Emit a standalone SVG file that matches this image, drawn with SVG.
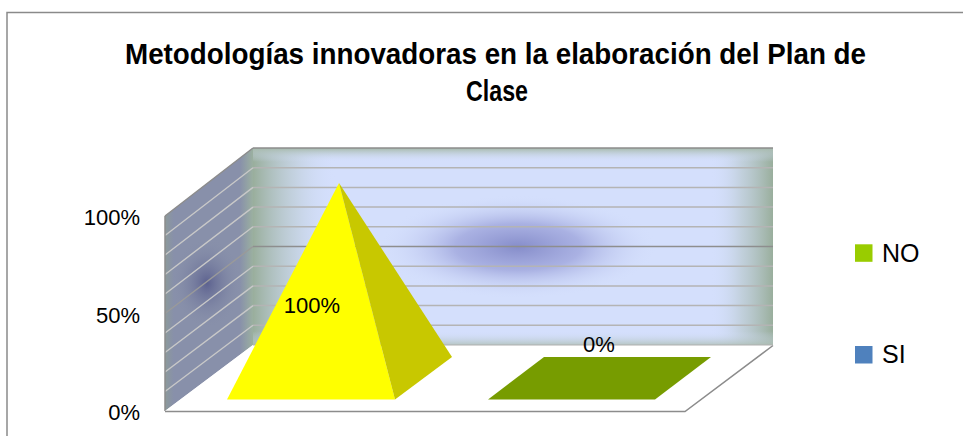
<svg xmlns="http://www.w3.org/2000/svg" width="963" height="436" viewBox="0 0 963 436">
<style>
text{font-family:"Liberation Sans",Arial,sans-serif;fill:#000}
.title{font-weight:bold;font-size:29px}
.lbl{font-size:22px}
.leg{font-size:25px}
.grid{stroke:#B4B4B4;stroke-width:1.5;fill:none}
.gridL{stroke:#C8C8C8;stroke-width:1.4;fill:none}
.edge{stroke:#8C8C8C;stroke-width:1.5;fill:none}
</style>
<defs>
<linearGradient id="bwL" x1="0" y1="0" x2="1" y2="0">
<stop offset="0" stop-color="#99AE9C"/>
<stop offset="0.08" stop-color="#B9C9CE" stop-opacity="0.6"/>
<stop offset="0.16" stop-color="#D4DFFC" stop-opacity="0"/>
<stop offset="0.88" stop-color="#D4DFFC" stop-opacity="0"/>
<stop offset="0.94" stop-color="#B9C9CE" stop-opacity="0.7"/>
<stop offset="1" stop-color="#99AE9C"/>
</linearGradient>
<linearGradient id="bwT" x1="0" y1="0" x2="0" y2="1">
<stop offset="0" stop-color="#A6B9AA"/>
<stop offset="0.07" stop-color="#D4DFFC" stop-opacity="0"/>
<stop offset="0.93" stop-color="#D4DFFC" stop-opacity="0"/>
<stop offset="1" stop-color="#AEBFB5" stop-opacity="0.8"/>
</linearGradient>
<radialGradient id="bwC" cx="0.5" cy="0.5" r="0.5">
<stop offset="0" stop-color="#868DCA"/>
<stop offset="0.45" stop-color="#A2A9DE" stop-opacity="0.85"/>
<stop offset="1" stop-color="#D4DFFC" stop-opacity="0"/>
</radialGradient>
<linearGradient id="lwG" x1="0" y1="0" x2="1" y2="0">
<stop offset="0" stop-color="#8C9A9A"/>
<stop offset="0.1" stop-color="#8890AA"/>
<stop offset="0.85" stop-color="#8890AA"/>
<stop offset="1" stop-color="#9BB0A0"/>
</linearGradient>
<radialGradient id="lwC" cx="0.5" cy="0.5" r="0.5">
<stop offset="0" stop-color="#5C618F"/>
<stop offset="1" stop-color="#8890AA" stop-opacity="0"/>
</radialGradient>
</defs>
<rect x="7" y="12.5" width="970" height="440" fill="#FFFFFF" stroke="#8A8A8A" stroke-width="1.5"/>
<g id="title">
<text class="title" x="125" y="63.5" textLength="741" lengthAdjust="spacingAndGlyphs">Metodologías innovadoras en la elaboración del Plan de</text>
<text class="title" x="466" y="100.5" textLength="62" lengthAdjust="spacingAndGlyphs">Clase</text>
</g>
<g id="plot-area">
<g id="back-wall">
<rect x="253" y="148" width="520" height="197" fill="#D4DFFC"/>
<ellipse cx="518" cy="247" rx="140" ry="52" fill="url(#bwC)"/>
<rect x="253" y="148" width="520" height="197" fill="url(#bwL)"/>
<rect x="253" y="148" width="520" height="197" fill="url(#bwT)"/>
<path class="grid" d="M253 167.7H773M253 187.4H773M253 207.1H773M253 226.8H773M253 266.2H773M253 285.9H773M253 305.6H773M253 325.3H773"/>
<path d="M253 246.5H773" stroke="#8E8E8E" stroke-width="1.5"/>
<path class="edge" d="M253 148H773" stroke="#A0A0A0"/>
</g>
<g id="side-wall">
<polygon points="165,216 253,148 253,345 165,411" fill="url(#lwG)"/>
<ellipse cx="207" cy="283" rx="35" ry="45" fill="url(#lwC)"/>
<path class="gridL" d="M165 235.5L253 167.7M165 255L253 187.4M165 274.5L253 207.1M165 294L253 226.8M165 333L253 266.2M165 352.5L253 285.9M165 372L253 305.6M165 391.5L253 325.3"/>
<path d="M165 313.5L253 246.5" stroke="#9A9A9A" stroke-width="1.4"/>
<path class="edge" d="M165 216L253 148M165 216V411"/>
</g>
<g id="floor">
<polygon points="165,411 253,345 773,345 685,412" fill="#FFFFFF"/>
<path class="edge" d="M165 411.5H685L773 345.5"/>
<path d="M253 345H773" stroke="#B0B0B0" stroke-width="1"/>
</g>
</g>
<g id="series-si">
<polygon points="339,183 227,399.5 395,399.5" fill="#FFFF00"/>
<polygon points="339,183 395,399.5 452,357" fill="#C8C800"/>
<text class="lbl" x="312" y="313" text-anchor="middle">100%</text>
</g>
<g id="series-no">
<polygon points="544,357 711,357 655,399.5 488,399.5" fill="#779C00"/>
<text class="lbl" x="599" y="352" text-anchor="middle">0%</text>
</g>
<g id="axis">
<text class="lbl" x="140" y="225" text-anchor="end">100%</text>
<text class="lbl" x="140" y="323" text-anchor="end">50%</text>
<text class="lbl" x="140" y="420" text-anchor="end">0%</text>
</g>
<g id="legend">
<rect x="855" y="244.3" width="17.5" height="17.5" fill="#99CC00"/>
<text class="leg" x="882" y="261.8">NO</text>
<rect x="855" y="346" width="17.5" height="17.5" fill="#4F81BD"/>
<text class="leg" x="882" y="363.3">SI</text>
</g>
</svg>
